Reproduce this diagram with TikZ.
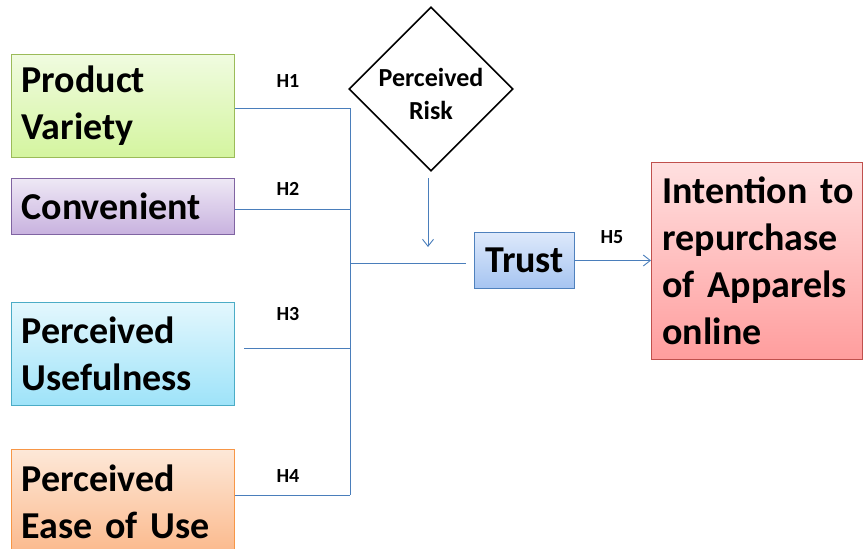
\documentclass[tikz,border=0pt]{standalone}
\usepackage{fontspec}
\setmainfont{Carlito}
\usetikzlibrary{shapes.geometric,arrows.meta,calc}

% palette
\definecolor{linkblue}{HTML}{4A7EBB}
\definecolor{pvTop}{HTML}{F0FBE0}\definecolor{pvBot}{HTML}{D4F59F}\definecolor{pvLine}{HTML}{9BBB59}
\definecolor{cvTop}{HTML}{EEE8F5}\definecolor{cvBot}{HTML}{C8B2DF}\definecolor{cvLine}{HTML}{8064A2}
\definecolor{puTop}{HTML}{E3F7FD}\definecolor{puBot}{HTML}{9EE3F9}\definecolor{puLine}{HTML}{4BACC6}
\definecolor{peTop}{HTML}{FDE8D8}\definecolor{peBot}{HTML}{FBB98C}\definecolor{peLine}{HTML}{F79646}
\definecolor{trTop}{HTML}{DDE9FB}\definecolor{trBot}{HTML}{A6C4F1}\definecolor{trLine}{HTML}{4F81BD}
\definecolor{inTop}{HTML}{FFE0E0}\definecolor{inBot}{HTML}{FF9D9D}\definecolor{inLine}{HTML}{C0504D}

% large bold labels with slightly tighter word spacing
\newcommand\boxfont{\bfseries\fontsize{38}{47}\selectfont\spaceskip=0.14em\relax}

\tikzset{
  bigtext/.style={font=\boxfont},
  factor/.style={draw, line width=1pt, rectangle, anchor=north west, inner sep=0pt,
    inner xsep=10pt, text width=203pt, minimum width=223pt, align=left, bigtext},
  link/.style={draw=linkblue, line width=0.9pt},
  linkarrow/.style={link, -{Straight Barb[length=7pt,width=11pt]}},
  hyp/.style={font=\bfseries\fontsize{20}{22}\selectfont},
}

\begin{document}
\begin{tikzpicture}[x=1pt,y=-1pt]
  \useasboundingbox (0,0) rectangle (863,549);
  \begin{scope}
  \clip (0,0) rectangle (863,549);

  % independent variables
  \node[factor, minimum height=103pt, draw=pvLine, top color=pvTop, bottom color=pvBot]
    (pv) at (11,54) {Product\\Variety};
  \node[factor, minimum height=56pt, draw=cvLine, top color=cvTop, bottom color=cvBot]
    (cv) at (11,178) {Convenient};
  \node[factor, minimum height=103pt, draw=puLine, top color=puTop, bottom color=puBot]
    (pu) at (11,302) {Perceived\\Usefulness};
  \node[factor, minimum height=104pt, draw=peLine, top color=peTop, bottom color=peBot]
    (pe) at (11,449) {Perceived\\Ease of Use};

  % moderator
  \node[diamond, draw, line width=1.6pt, minimum width=164pt, minimum height=164pt,
        inner sep=0pt, aspect=1] (risk) at (431,89) {};
  \node[align=center, font=\bfseries\fontsize{26}{33}\selectfont] (risktext) at (431,94)
    {Perceived\\Risk};

  % mediator and outcome
  \node[draw=trLine, line width=1pt, top color=trTop, bottom color=trBot, bigtext,
        minimum width=100pt, minimum height=56pt, inner sep=0pt, anchor=north west]
    (trust) at (474,232) {Trust};
  \node[draw=inLine, line width=1pt, top color=inTop, bottom color=inBot, bigtext,
        anchor=north west, minimum width=211pt, minimum height=197pt, inner sep=0pt,
        inner xsep=11pt, text width=189pt, align=left]
    (intent) at (651,162) {Intention~to\\repurchase\\of Apparels\\online};

  % collecting bus
  \coordinate (busTop) at (350,108);
  \coordinate (busCv) at (350,209);
  \coordinate (busPu) at (350,348);
  \coordinate (busMid) at (350,263);
  \coordinate (busBot) at (350,495);
  \draw[link] (busTop) -- (busBot);
  \draw[link] (pv.east |- busTop) -- (busTop);
  \draw[link] (cv.east |- busCv) -- (busCv);
  \draw[link] ([xshift=9pt]pu.east |- busPu) -- (busPu);
  \draw[link] (pe.east |- busBot) -- (busBot);
  \coordinate (trustIn) at ([xshift=-8pt]trust.west);
  \draw[link] (busMid) -- (trustIn |- busMid);

  % moderating effect of risk
  \coordinate (riskOut) at (428,178);
  \coordinate (riskEnd) at (428,247);
  \draw[linkarrow] (riskOut) -- (riskEnd);

  % trust to intention
  \draw[linkarrow] (trust.east) -- (intent.west |- trust.east);

  % hypothesis labels
  \node[hyp] (h1) at (288,81) {H1};
  \node[hyp] (h2) at (288,189) {H2};
  \node[hyp] (h3) at (288,314) {H3};
  \node[hyp] (h4) at (288,476) {H4};
  \node[hyp] (h5) at (612,237) {H5};
  \end{scope}
\end{tikzpicture}
\end{document}
